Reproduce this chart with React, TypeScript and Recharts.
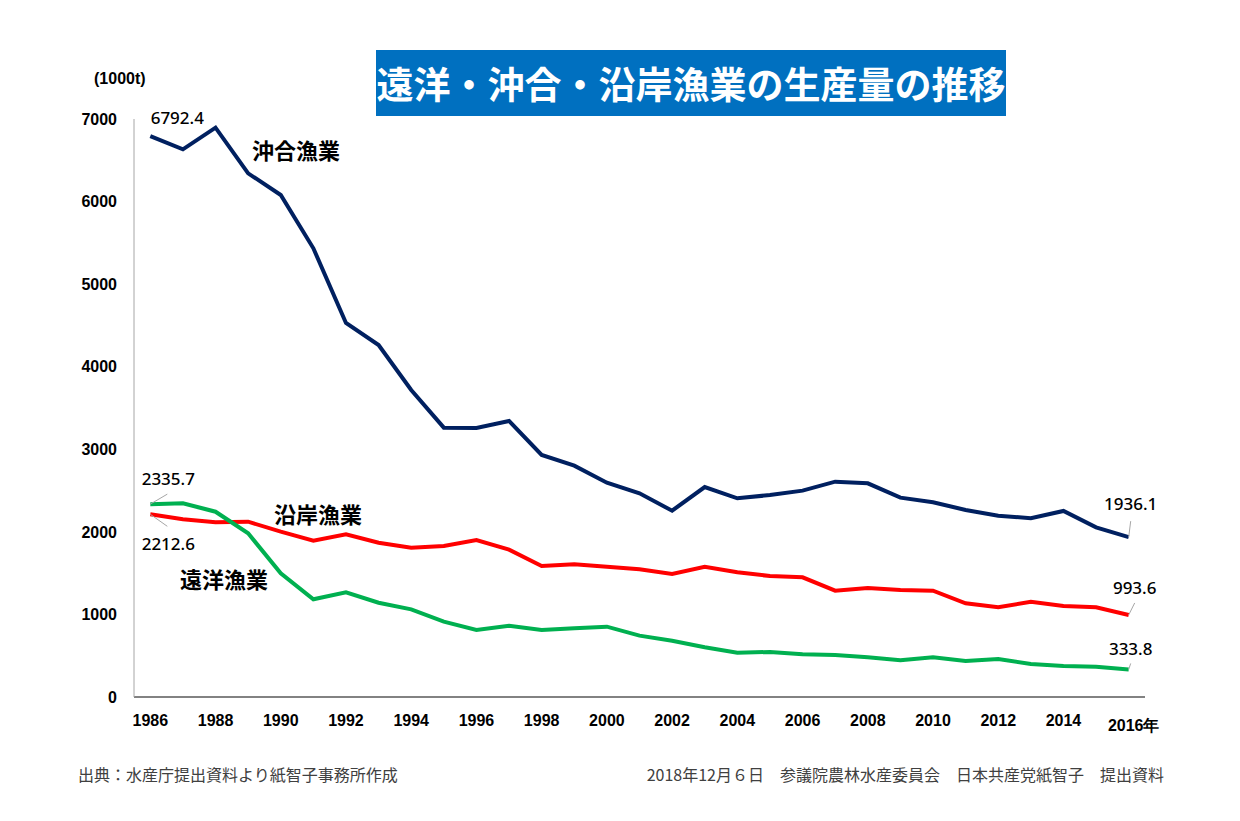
import React from "react";
import {CartesianGrid, Line, LineChart, XAxis, YAxis} from "recharts";

const years = [
  1986, 1987, 1988, 1989, 1990, 1991, 1992, 1993, 1994, 1995, 1996,
  1997, 1998, 1999, 2000, 2001, 2002, 2003, 2004, 2005, 2006,
  2007, 2008, 2009, 2010, 2011, 2012, 2013, 2014, 2015, 2016,
];

// 沖合漁業
const offshore = [
  6792.4, 6633, 6895, 6342, 6080, 5434, 4530, 4263, 3718, 3262, 3259,
  3343, 2931, 2801, 2595, 2467, 2256, 2543, 2406, 2446, 2499,
  2608, 2588, 2414, 2358, 2265, 2196, 2164, 2253, 2055, 1936.1,
];

// 沿岸漁業
const coastal = [
  2212.6, 2152, 2115, 2123, 2002, 1893, 1970, 1868, 1808, 1829, 1901,
  1784, 1586, 1607, 1578, 1546, 1489, 1578, 1510, 1465, 1449,
  1288, 1320, 1296, 1288, 1135, 1086, 1154, 1102, 1086, 993.6,
];

// 遠洋漁業
const distant = [
  2335.7, 2345, 2244, 1982, 1498, 1183, 1268, 1142, 1062, 912, 811,
  862, 811, 832, 852, 743, 682, 602, 537, 545, 517,
  509, 480, 444, 480, 436, 460, 400, 375, 367, 333.8,
];

const xTicks = [1986, 1988, 1990, 1992, 1994, 1996, 1998, 2000, 2002, 2004, 2006, 2008, 2010, 2012, 2014, 2016];
const yTicks = [0, 1000, 2000, 3000, 4000, 5000, 6000, 7000];

const data = years.map((year, i) => ({
  year,
  offshore: offshore[i],
  coastal: coastal[i],
  distant: distant[i],
}));

const narrow = '"Liberation Sans Narrow", "Arial Narrow", "Liberation Sans", sans-serif';
const jp = '"Noto Sans CJK JP", "Noto Sans", sans-serif';

type LabelPos = { dx: number; dy: number; lx?: number; ly?: number };

// label only the first and last point of each series
const endLabels = (first: LabelPos, last: LabelPos) => (props: any) => {
  const {x, y, index, value} = props;
  if (index !== 0 && index !== years.length - 1) return null;
  const p = index === 0 ? first : last;
  return (
    <g key={`lbl-${index}`}>
      {p.lx !== undefined && (
        <line x1={x} y1={y} x2={x + p.lx} y2={y + (p.ly || 0)} stroke="#a6a6a6" strokeWidth={1}/>
      )}
      <text
        x={x + p.dx}
        y={y + p.dy}
        textAnchor="middle"
        dominantBaseline="central"
        fontFamily='"Noto Sans", sans-serif'
        fontSize={17}
        fontWeight={500}
        fill="#000"
      >
        {value}
      </text>
    </g>
  );
};

const XTick = (props: any) => {
  const {x, y, payload} = props;
  const last = payload.value === 2016;
  return (
    <text
      x={last ? x + 5 : x}
      y={last ? y + 5 : y}
      dy="0.71em"
      textAnchor="middle"
      fontFamily={narrow}
      fontSize={16}
      fontWeight="bold"
      fill="#000"
    >
      {last ? "2016年" : payload.value}
    </text>
  );
};

const seriesName: React.CSSProperties = {
  position: "absolute",
  fontFamily: jp,
  fontSize: 22,
  fontWeight: "bold",
  color: "#000",
  lineHeight: 1,
  whiteSpace: "nowrap",
};

const App = () => {
  return (
    <div style={{position: "relative", width: 1240, height: 821, background: "#fff", overflow: "hidden"}}>
      <style>{`body{margin:0}`}</style>

      <div style={{
        position: "absolute", left: 376, top: 50, width: 630, height: 66,
        background: "#0070C0", color: "#fff", fontFamily: jp, fontWeight: "bold",
        fontSize: 37, display: "flex", alignItems: "center", justifyContent: "center",
        whiteSpace: "nowrap",
      }}>
        遠洋・沖合・沿岸漁業の生産量の推移
      </div>

      <div style={{
        position: "absolute", left: 94, top: 70, fontFamily: narrow, fontWeight: "bold",
        fontSize: 16, color: "#000",
      }}>
        (1000t)
      </div>

      <LineChart
        width={1240}
        height={821}
        data={data}
        margin={{top: 119, right: 95, bottom: 94, left: 0}}
      >
        <CartesianGrid horizontal={false} vertical={false}/>
        <XAxis
          dataKey="year"
          type="number"
          domain={[1985.5, 2016.5]}
          ticks={xTicks}
          interval={0}
          height={30}
          tickLine={false}
          tickSize={6}
          tickMargin={12}
          axisLine={{stroke: "#595959", strokeWidth: 1.5}}
          tick={<XTick/>}
        />
        <YAxis
          type="number"
          domain={[0, 7000]}
          ticks={yTicks}
          width={134}
          tickLine={false}
          tickSize={6}
          tickMargin={11}
          axisLine={{stroke: "#a6a6a6", strokeWidth: 1}}
          tick={{fontFamily: narrow, fontSize: 16, fontWeight: "bold", fill: "#000"}}
        />
        <Line
          dataKey="offshore"
          stroke="#002060"
          strokeWidth={4}
          dot={false}
          isAnimationActive={false}
          label={endLabels({dx: 27, dy: -19}, {dx: 2, dy: -34, lx: 2, ly: -16})}
        />
        <Line
          dataKey="coastal"
          stroke="#FF0000"
          strokeWidth={4}
          dot={false}
          isAnimationActive={false}
          label={endLabels({dx: 18, dy: 29, lx: 17, ly: 12}, {dx: 6, dy: -27, lx: 6, ly: -12})}
        />
        <Line
          dataKey="distant"
          stroke="#00B050"
          strokeWidth={4}
          dot={false}
          isAnimationActive={false}
          label={endLabels({dx: 18, dy: -26, lx: 17, ly: -10}, {dx: 2, dy: -21, lx: 2, ly: -6})}
        />
      </LineChart>

      <div style={{...seriesName, left: 252, top: 138}}>沖合漁業</div>
      <div style={{...seriesName, left: 274, top: 502}}>沿岸漁業</div>
      <div style={{...seriesName, left: 180, top: 567}}>遠洋漁業</div>

      <div style={{
        position: "absolute", left: 78, top: 762, fontFamily: jp, fontSize: 16,
        color: "#404040", whiteSpace: "nowrap",
      }}>
        出典：水産庁提出資料より紙智子事務所作成
      </div>
      <div style={{
        position: "absolute", right: 1240 - 1164, top: 762, fontFamily: jp, fontSize: 16,
        color: "#404040", whiteSpace: "nowrap",
      }}>
        2018年12月６日　参議院農林水産委員会　日本共産党紙智子　提出資料
      </div>
    </div>
  );
};

export default App;
